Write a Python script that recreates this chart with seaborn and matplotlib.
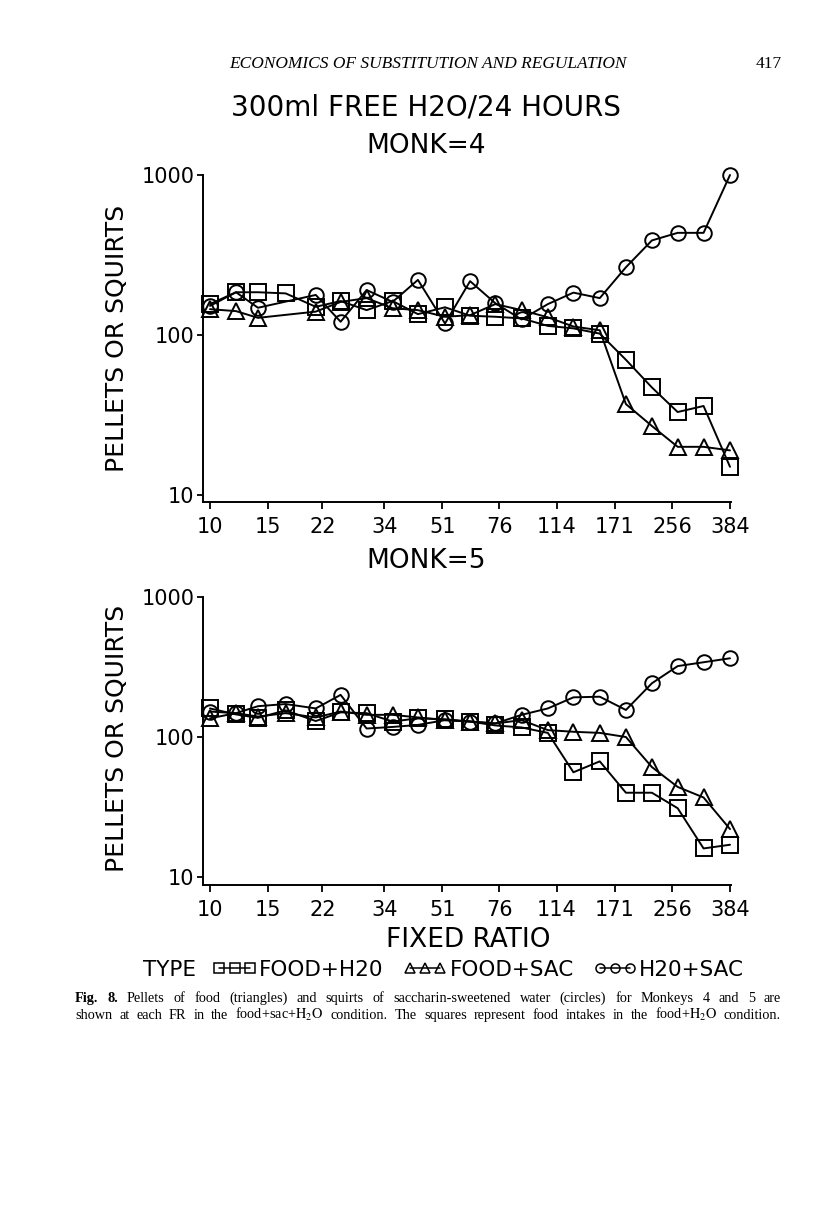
#!/usr/bin/env python3
# -*- coding: utf-8 -*-
"""
Fig. 8 - Pellets / squirts por razon fija (MONK=4 y MONK=5)
"""

# --- IMPORTS ---
import numpy as np
import pandas as pd
import matplotlib
matplotlib.use("Agg")
import matplotlib.pyplot as plt
import seaborn as sns
from matplotlib.lines import Line2D
from matplotlib.ticker import NullLocator

nan = np.nan

# --- DATOS ---
fr = [10, 12, 14, 17, 21, 25, 30, 36, 43, 52, 62, 74, 89, 107, 128, 154, 185, 222, 266, 319, 384]
tick_fr = [10, 15, 22, 34, 51, 76, 114, 171, 256, 384]
y_ticks = [10, 100, 1000]

# MONK=4 (en FR=17 solo hay dato de FOOD+H20)
m4_food_h2o = [156, 185, 185, 182, 150, 163, 143, 163, 135, 149, 132, 130, 127, 114, 110, 102, 70, 47, 33, 36, 15]
m4_food_sac = [145, 141, 128, nan, 140, 161, 170, 147, 143, 130, 133, 156, 143, 129, 113, 107, 37, 27, 20, 20, 19]
m4_h2o_sac = [152, 185, 148, nan, 178, 121, 191, 161, 221, 118, 217, 158, 125, 156, 184, 170, 265, 390, 435, 435, 1000]

# MONK=5
m5_food_h2o = [160, 145, 137, 155, 130, 150, 148, 129, 136, 134, 129, 121, 117, 107, 56, 67, 40, 40, 31, 16, 17]
m5_food_sac = [136, 148, 140, 148, 138, 152, 144, 144, 138, 132, 129, 125, 132, 112, 109, 107, 100, 61, 44, 37, 22]
m5_h2o_sac = [152, 148, 166, 172, 160, 200, 115, 118, 122, 132, 129, 125, 144, 160, 192, 194, 156, 242, 321, 342, 365]

types = ["FOOD+H20", "FOOD+SAC", "H20+SAC"]
markers = {"FOOD+H20": "s", "FOOD+SAC": "^", "H20+SAC": "o"}
msizes = {"FOOD+H20": 11, "FOOD+SAC": 11, "H20+SAC": 10.5}


def to_long(series):
    frames = []
    for t, vals in zip(types, series):
        frames.append(pd.DataFrame({"FR": fr, "valor": vals, "TYPE": t}))
    df = pd.concat(frames, ignore_index=True)
    return df.dropna()


df4 = to_long([m4_food_h2o, m4_food_sac, m4_h2o_sac])
df5 = to_long([m5_food_h2o, m5_food_sac, m5_h2o_sac])

# --- ESTILO ---
sns.set_style("ticks")
plt.rcParams["font.family"] = ["DejaVu Sans"]
plt.rcParams["mathtext.fontset"] = "stix"
plt.rcParams["axes.linewidth"] = 1.4
plt.rcParams["text.color"] = "black"
plt.rcParams["axes.edgecolor"] = "black"
plt.rcParams["xtick.color"] = "black"
plt.rcParams["ytick.color"] = "black"

W, H = 816, 1207
fig = plt.figure(figsize=(W / 100, H / 100), dpi=100)


def fx(px):
    return px / W


def fy(py):
    return 1 - py / H


ax4 = fig.add_axes([fx(203), fy(502), 528 / W, 327 / H])
ax5 = fig.add_axes([fx(203), fy(885), 528 / W, 288 / H])


def draw_panel(ax, df, ylo):
    for t in types:
        sub = df[df["TYPE"] == t]
        sns.lineplot(data=sub, x="FR", y="valor", ax=ax, color="black",
                     marker=markers[t], markersize=msizes[t],
                     markerfacecolor="none", markeredgecolor="black",
                     markeredgewidth=1.4, linewidth=1.4,
                     estimator=None, sort=True, legend=False)
    for ln in ax.lines:
        ln.set_clip_on(False)
    ax.set_xscale("log")
    ax.set_yscale("log")
    ax.set_xlim(9.52, 386.7)
    ax.set_ylim(ylo, 1000)
    ax.set_xticks(tick_fr)
    ax.set_xticklabels([str(v) for v in tick_fr])
    ax.set_yticks(y_ticks)
    ax.set_yticklabels([str(v) for v in y_ticks])
    ax.xaxis.set_minor_locator(NullLocator())
    ax.yaxis.set_minor_locator(NullLocator())
    ax.tick_params(axis="x", length=5, width=1.3, pad=6, labelsize=15,
                   colors="black")
    ax.tick_params(axis="y", length=4, width=1.3, pad=2, labelsize=15,
                   colors="black")
    ax.set_xlabel("")
    ax.set_ylabel("")
    sns.despine(ax=ax)


draw_panel(ax4, df4, 9.04)
draw_panel(ax5, df5, 8.77)

# --- TEXTOS ---
serif = "Liberation Serif"
fig.text(fx(428), fy(64), "ECONOMICS OF SUBSTITUTION AND REGULATION", family=serif,
         style="italic", fontsize=12.5, ha="center", va="center")
fig.text(fx(782), fy(64), "417", family=serif, fontsize=12.5, ha="right", va="center")

fig.text(fx(426), fy(108), "300ml FREE H2O/24 HOURS", fontsize=20, ha="center", va="center")
fig.text(fx(426), fy(146), "MONK=4", fontsize=19, ha="center", va="center")
fig.text(fx(426), fy(561), "MONK=5", fontsize=19, ha="center", va="center")
fig.text(fx(468), fy(940), "FIXED RATIO", fontsize=19, ha="center", va="center")
for yc in (338, 738):
    fig.text(fx(117), fy(yc), "PELLETS OR SQUIRTS", fontsize=18, rotation=90,
             ha="center", va="center")

# --- LEYENDA ---
fig.text(fx(143), fy(970), "TYPE", fontsize=15.5, ha="left", va="center")
handles = [Line2D([], [], color="black", marker=markers[t], markersize=6.5,
                  markerfacecolor="none", markeredgewidth=1.1, linewidth=1.1)
           for t in types]
fig.legend(handles, types, loc="center left", bbox_to_anchor=(fx(213), fy(970)),
           ncol=3, frameon=False, fontsize=15.5, numpoints=3, handlelength=2.0,
           handletextpad=0.15, columnspacing=0.9, borderaxespad=0, borderpad=0)

# --- PIE DE FIGURA (justificado) ---
line1 = [("Fig.", "bold"), ("8.", "bold"), ("Pellets", "normal"), ("of", "normal"),
         ("food", "normal"), ("(triangles)", "normal"), ("and", "normal"),
         ("squirts", "normal"), ("of", "normal"), ("saccharin-sweetened", "normal"),
         ("water", "normal"), ("(circles)", "normal"), ("for", "normal"),
         ("Monkeys", "normal"), ("4", "normal"), ("and", "normal"), ("5", "normal"),
         ("are", "normal")]
line2_txt = ("shown at each FR in the food+sac+$\\mathrm{H_2O}$ condition. The squares "
             "represent food intakes in the food+$\\mathrm{H_2O}$ condition.")
line2 = [(w, "normal") for w in line2_txt.split(" ")]

renderer = fig.canvas.get_renderer()
cap_size = 10.3


def justified(words, ybase, x0=75, x1=781, size=10):
    texts = [fig.text(0, fy(ybase), w, family=serif, weight=wt, fontsize=size,
                      ha="left", va="baseline") for w, wt in words]
    widths = [t.get_window_extent(renderer).width for t in texts]
    gap = (x1 - x0 - sum(widths)) / (len(words) - 1)
    x = x0
    for t, w in zip(texts, widths):
        t.set_x(fx(x))
        x += w + gap
    return gap


g1 = justified(line1, 1002, size=cap_size)
g2 = justified(line2, 1019, size=cap_size)

fig.savefig("out.png", dpi=100)
print("Figura guardada en out.png, huecos", round(g1, 1), round(g2, 1))
